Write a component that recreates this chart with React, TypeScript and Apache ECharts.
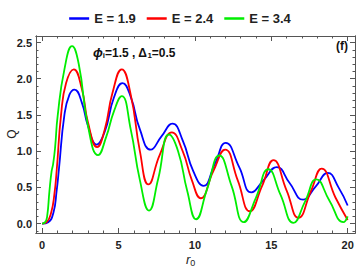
import React, { useEffect, useRef } from "react";
import * as echarts from "echarts";

const seriesNames = ["E = 1.9", "E = 2.4", "E = 3.4"];
const seriesColors = ["#0000ff", "#ff0000", "#00ee00"];

const blueData: [number, number][] = [
  [0, 0], [0.4, 0.02], [0.74, 0.15], [0.95, 0.45], [1.1, 0.75], [1.46, 1.5], [1.79, 1.78], [2.12, 1.85],
  [2.6, 1.67], [3.0, 1.35], [3.56, 1.09], [4.1, 1.27], [4.7, 1.74], [5.26, 1.94], [5.8, 1.75], [6.4, 1.3],
  [7.11, 1.02], [7.8, 1.2], [8.53, 1.38], [9.2, 1.15], [9.9, 0.72], [10.56, 0.52], [11.3, 0.82], [12.02, 1.115],
  [12.9, 0.78], [13.7, 0.43], [14.5, 0.6], [15.36, 0.78], [16.2, 0.56], [17.08, 0.33], [17.9, 0.51], [18.7, 0.7],
  [19.4, 0.5], [20, 0.25],
];

const redData: [number, number][] = [
  [0, 0], [0.3, 0.02], [0.59, 0.15], [0.8, 0.4], [0.96, 0.75], [1.24, 1.5], [1.57, 1.94], [2.07, 2.13],
  [2.6, 1.86], [3.0, 1.4], [3.6, 1.055], [4.1, 1.3], [4.6, 1.8], [5.21, 2.13], [5.8, 1.78], [6.4, 1.0],
  [6.96, 0.54], [7.7, 0.95], [8.49, 1.26], [9.2, 1.0], [9.8, 0.6], [10.38, 0.35], [11.2, 0.72], [11.98, 1.02],
  [12.8, 0.6], [13.6, 0.17], [14.4, 0.52], [15.14, 0.875], [16.0, 0.46], [16.78, 0.08], [17.6, 0.45], [18.3, 0.76],
  [19.2, 0.36], [20, 0.05],
];

const greenData: [number, number][] = [
  [0, 0], [0.2, 0.02], [0.33, 0.1], [0.48, 0.45], [0.62, 0.72], [0.72, 0.82], [0.85, 1.05], [1.02, 1.49],
  [1.46, 2.13], [1.96, 2.45], [2.4, 2.2], [3.0, 1.35], [3.66, 0.945], [4.2, 1.2], [4.7, 1.55], [5.21, 1.76],
  [5.8, 1.3], [6.4, 0.6], [7.0, 0.18], [7.6, 0.62], [8.31, 1.23], [8.9, 1.0], [9.5, 0.45], [10.08, 0.06],
  [10.8, 0.48], [11.6, 0.94], [12.4, 0.52], [13.2, 0.02], [14.0, 0.36], [14.81, 0.75], [15.6, 0.4], [16.45, 0.01],
  [17.2, 0.3], [17.95, 0.61], [18.8, 0.32], [19.72, 0.02], [20, 0.1],
];

const xMajorTicks = [0, 5, 10, 15, 20];
const xMinorTicks = [1, 2, 3, 4, 6, 7, 8, 9, 11, 12, 13, 14, 16, 17, 18, 19];
const yMajorTicks = [0, 0.5, 1, 1.5, 2, 2.5];
const yMinorTicks = [-0.1, 0.1, 0.2, 0.3, 0.4, 0.6, 0.7, 0.8, 0.9, 1.1, 1.2, 1.3, 1.4, 1.6, 1.7, 1.8, 1.9, 2.1, 2.2, 2.3, 2.4];

const X_MIN = -0.4;
const X_MAX = 20.48;
const Y_MIN = -0.13;
const Y_MAX = 2.59;

const FRAME = "#555555";
const FONT = "Liberation Sans";

export default function App() {
  const ref = useRef<HTMLDivElement>(null);
  useEffect(() => {
    if (!ref.current) return;
    const chart = echarts.init(ref.current, null, { renderer: "svg" });

    const mkX = (position: string, ticks: number[], len: number, labels: boolean) => ({
      type: "value",
      position,
      min: X_MIN,
      max: X_MAX,
      axisLine: { show: true, onZero: false, lineStyle: { color: FRAME, width: 1 } },
      axisTick: { show: true, inside: true, length: len, customValues: ticks, lineStyle: { color: FRAME } },
      axisLabel: labels
        ? { show: true, customValues: xMajorTicks, margin: 6, fontSize: 11, fontWeight: "bold", color: "#222", fontFamily: FONT, formatter: (v: number) => String(v) }
        : { show: false },
      splitLine: { show: false },
    });
    const mkY = (position: string, ticks: number[], len: number, labels: boolean) => ({
      type: "value",
      position,
      min: Y_MIN,
      max: Y_MAX,
      axisLine: { show: true, onZero: false, lineStyle: { color: FRAME, width: 1 } },
      axisTick: { show: true, inside: true, length: len, customValues: ticks, lineStyle: { color: FRAME } },
      axisLabel: labels
        ? { show: true, customValues: yMajorTicks, margin: 4, fontSize: 11, fontWeight: "bold", color: "#222", fontFamily: FONT, formatter: (v: number) => v.toFixed(1) }
        : { show: false },
      splitLine: { show: false },
    });

    const data = [blueData, redData, greenData];

    chart.setOption({
      animation: false,
      backgroundColor: "#ffffff",
      grid: { left: 36, top: 36, right: 5, bottom: 37, containLabel: false, outerBoundsMode: "none" },
      legend: {
        top: 7,
        left: "center",
        icon: "rect",
        itemWidth: 20,
        itemHeight: 2.5,
        itemGap: 11,
        textStyle: { fontSize: 13, fontWeight: "bold", color: "#222", fontFamily: FONT, padding: [0, 0, 0, 0] },
        data: seriesNames,
      },
      xAxis: [
        mkX("bottom", xMajorTicks, 5, true),
        mkX("bottom", xMinorTicks, 2.5, false),
        mkX("top", xMajorTicks, 5, false),
        mkX("top", xMinorTicks, 2.5, false),
      ],
      yAxis: [
        mkY("left", yMajorTicks, 5, true),
        mkY("left", yMinorTicks, 2.5, false),
        mkY("right", yMajorTicks, 5, false),
        mkY("right", yMinorTicks, 2.5, false),
      ],
      series: data.map((d, i) => ({
        name: seriesNames[i],
        type: "line",
        xAxisIndex: 0,
        yAxisIndex: 0,
        data: d,
        smooth: 0.5,
        showSymbol: false,
        symbol: "none",
        lineStyle: { color: seriesColors[i], width: 1.8 },
        itemStyle: { color: seriesColors[i] },
      })),
      graphic: [
        {
          type: "text",
          left: 93,
          top: 46,
          style: {
            text: "{p|ϕ}{s|i}{t|=1.5 , Δ}{s|1}{t|=0.5}",
            rich: {
              p: { fontSize: 13, fontWeight: "bold", fontStyle: "italic", fontFamily: FONT, fill: "#111" },
              t: { fontSize: 12, fontWeight: "bold", fontFamily: FONT, fill: "#111" },
              s: { fontSize: 8, fontWeight: "bold", fontFamily: FONT, fill: "#111", padding: [6, 0, 0, 0] },
            },
          },
        },
        {
          type: "text",
          left: 336,
          top: 40,
          style: { text: "(f)", fontSize: 12, fontWeight: "bold", fontFamily: FONT, fill: "#111" },
        },
        {
          type: "text",
          x: 12,
          y: 134,
          rotation: Math.PI / 2,
          style: { text: "Q", fontSize: 12, fontFamily: FONT, fill: "#222", align: "center", verticalAlign: "middle" },
        },
        {
          type: "text",
          left: 186,
          top: 253,
          style: {
            text: "{r|r}{s|0}",
            rich: {
              r: { fontSize: 13, fontStyle: "italic", fontFamily: FONT, fill: "#222" },
              s: { fontSize: 9, fontFamily: FONT, fill: "#222", padding: [6, 0, 0, 0] },
            },
          },
        },
      ],
    });
    return () => chart.dispose();
  }, []);
  return <div ref={ref} style={{ width: 360, height: 270, position: "fixed", left: 0, top: 0 }} />;
}
